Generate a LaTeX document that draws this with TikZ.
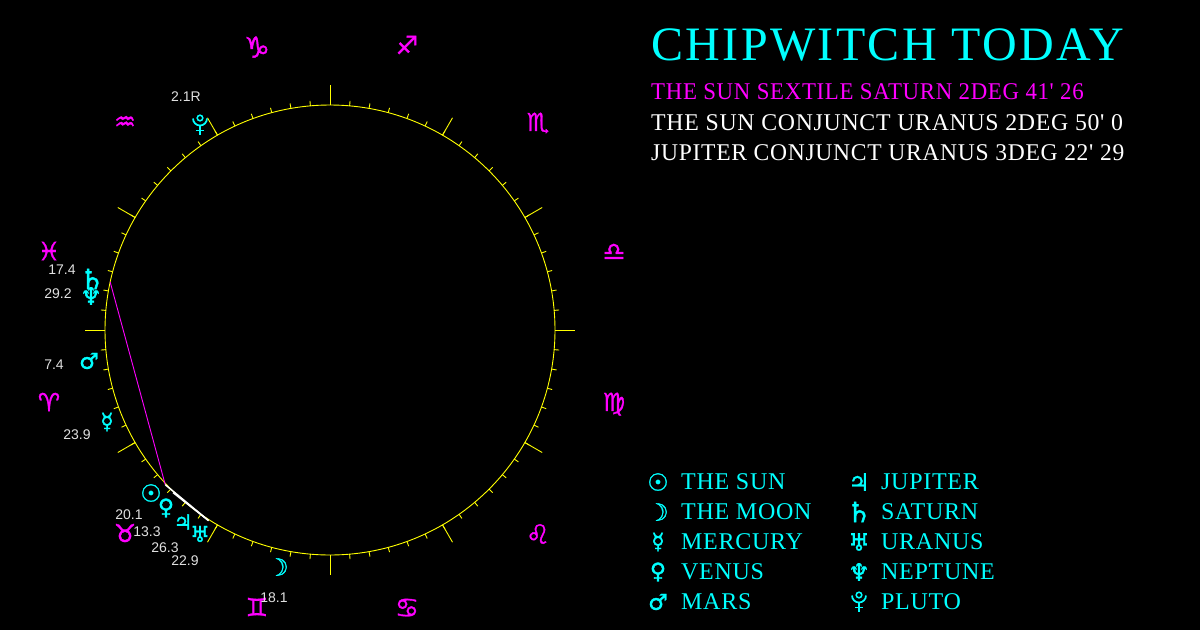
\documentclass[tikz,border=0pt]{standalone}
\usepackage{fontspec}
\usetikzlibrary{calc}
\setmainfont{Liberation Sans}
\newfontfamily\headfont[LetterSpace=5]{Liberation Serif}
\newfontfamily\capsfont[LetterSpace=3]{Liberation Serif}
\newfontfamily\glyphfont[FakeBold=1.2]{DejaVu Sans}
\definecolor{chartcyan}{RGB}{0,255,255}
\definecolor{chartpink}{RGB}{255,0,255}
\definecolor{chartyellow}{RGB}{255,255,0}
\begin{document}
\begin{tikzpicture}[
  x=1pt, y=-1pt,
  tick/.style={chartyellow, line width=0.9pt},
  signlabel/.style={text=chartpink, inner sep=0pt, font=\glyphfont\fontsize{#1}{#1}\selectfont},
  signlabel/.default=25,
  planet/.style={text=chartcyan, inner sep=0pt, font=\glyphfont\fontsize{#1}{#1}\selectfont},
  planet/.default=22,
  degree/.style={text=white!88!black, inner sep=0pt, font=\fontsize{14}{14}\selectfont},
  titletext/.style={anchor=base west, inner sep=0pt, text=chartcyan, font=\headfont\fontsize{48}{48}\selectfont},
  aspecttext/.style={anchor=base west, inner sep=0pt, font=\capsfont\fontsize{24}{24}\selectfont},
  keytext/.style={anchor=base west, inner sep=0pt, text=chartcyan, font=\capsfont\fontsize{24}{24}\selectfont},
  aspect/.style={line width=0.9pt},
  plutoglyph/.pic={
    \draw[chartcyan, line width=1.7pt] (-7,-6) arc (180:0:7);
    \draw[chartcyan, line width=1.5pt] (0,-6.5) circle (2.8);
    \draw[chartcyan, line width=1.9pt] (0,1) -- (0,10) (-4,6) -- (4,6);
  }
]
\fill[black] (0,0) rectangle (1200,630);
\useasboundingbox (0,0) rectangle (1200,630);

% Wheel
\node[circle, draw=chartyellow, line width=0.9pt, minimum size=450pt, inner sep=0pt] (wheel) at (330,330) {};
\foreach \a in {0,5,...,355} {
  \draw[tick] ($(wheel.center)+(\a:225)$) -- ($(wheel.center)+(\a:230)$);
}
\foreach \a in {0,30,...,330} {
  \draw[tick] ($(wheel.center)+(\a:225)$) -- ($(wheel.center)+(\a:245)$);
}

% Aspect end points
\coordinate (sunpt) at ($(wheel.center)+(136.8:226)$);
\coordinate (satpt) at ($(wheel.center)+(192.3:225)$);
\coordinate (jupt) at ($(wheel.center)+(134:226)$);
\coordinate (urapt) at ($(wheel.center)+(122.5:226)$);

\draw[aspect, chartpink] (sunpt) -- (satpt);
\draw[aspect, white, line width=1.5pt] (sunpt) -- (urapt);
\draw[aspect, white, line width=1.5pt] (jupt) -- (urapt);

% Signs
\node[signlabel=29] (capricorn) at (257,47) {♑};
\node[signlabel=25] (sagittarius) at (407,45) {♐};
\node[signlabel=24] (aquarius) at (125,123) {♒};
\node[signlabel=25] (scorpio) at (538,123) {♏};
\node[signlabel=25] (pisces) at (49,251) {♓};
\node[signlabel=25] (libra) at (614,252) {♎};
\node[signlabel=25] (aries) at (49,402) {♈};
\node[signlabel=25] (virgo) at (614,404) {♍};
\node[signlabel=25] (taurus) at (125,533) {♉};
\node[signlabel=27] (leo) at (538,534) {♌};
\node[signlabel=25] (gemini) at (257,607) {♊};
\node[signlabel=27] (cancer) at (407,608) {♋};

% Planets on the wheel
\coordinate (pluto) at (200,124.5);
\pic at (pluto) {plutoglyph};
\node[planet=28] (saturn) at (92,279) {♄};
\node[planet=24] (neptune) at (91,296) {♆};
\node[planet] (mars) at (89,361) {♂};
\node[planet] (mercury) at (107,422) {☿};
\node[planet=24] (sun) at (151,493) {☉};
\node[planet] (venus) at (166,508) {♀};
\node[planet=21] (jupiter) at (183,522) {♃};
\node[planet=22] (uranus) at (200,534) {♅};
\node[planet=24] (moon) at (278,567) {☽};

% Degrees
\node[degree] (plutodeg) at (186,97) {2.1R};
\node[degree] (saturndeg) at (62,270) {17.4};
\node[degree] (neptunedeg) at (58,294) {29.2};
\node[degree] (marsdeg) at (54,365) {7.4};
\node[degree] (mercurydeg) at (77,435) {23.9};
\node[degree] (sundeg) at (129,515) {20.1};
\node[degree] (venusdeg) at (147,532) {13.3};
\node[degree] (jupiterdeg) at (165,548) {26.3};
\node[degree] (uranusdeg) at (185,561) {22.9};
\node[degree] (moondeg) at (274,598) {18.1};

% Heading
\node[titletext] (heading) at (651,60) {CHIPWITCH TODAY};
\node[aspecttext, text=chartpink, xscale=0.952] (line1) at (651,99) {THE SUN SEXTILE SATURN 2DEG 41' 26};
\node[aspecttext, text=white, xscale=0.992] (line2) at (651,130) {THE SUN CONJUNCT URANUS 2DEG 50' 0};
\node[aspecttext, text=white, xscale=0.982] (line3) at (651,160) {JUPITER CONJUNCT URANUS 3DEG 22' 29};

% Key
\node[planet=24] (keysun) at (658,482) {☉};
\node[keytext] (keysuntxt) at (681,489) {THE SUN};
\node[planet=24] (keymoon) at (658,512) {☽};
\node[keytext] (keymoontxt) at (681,519) {THE MOON};
\node[planet] (keymercury) at (658,542) {☿};
\node[keytext] (keymercurytxt) at (681,549) {MERCURY};
\node[planet] (keyvenus) at (658,572) {♀};
\node[keytext] (keyvenustxt) at (681,579) {VENUS};
\node[planet] (keymars) at (658,602) {♂};
\node[keytext] (keymarstxt) at (681,609) {MARS};
\node[planet=24] (keyjupiter) at (859,482) {♃};
\node[keytext] (keyjupitertxt) at (881,489) {JUPITER};
\node[planet=28] (keysaturn) at (859,512) {♄};
\node[keytext] (keysaturntxt) at (881,519) {SATURN};
\node[planet=24] (keyuranus) at (859,542) {♅};
\node[keytext] (keyuranustxt) at (881,549) {URANUS};
\node[planet=24] (keyneptune) at (859,572) {♆};
\node[keytext] (keyneptunetxt) at (881,579) {NEPTUNE};
\coordinate (keypluto) at (859,601.5);
\pic at (keypluto) {plutoglyph};
\node[keytext] (keyplutotxt) at (881,609) {PLUTO};

\end{tikzpicture}
\end{document}
